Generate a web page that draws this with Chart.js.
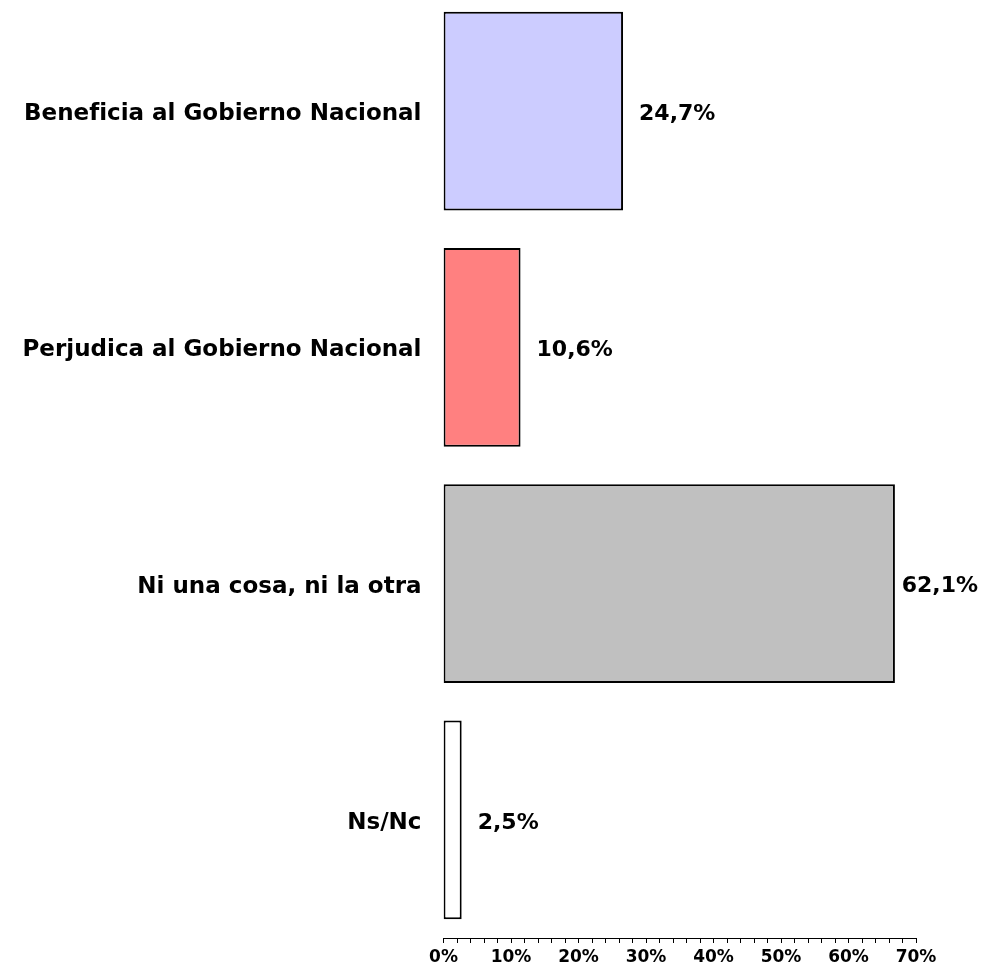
<!DOCTYPE html>
<html lang="es">
<head>
  <meta charset="UTF-8">
  <title>Beneficia o perjudica al Gobierno Nacional</title>
  <script src="https://cdn.jsdelivr.net/npm/chart.js"></script>
  <style>
    html, body {
      margin: 0;
      padding: 0;
      background: #fff;
      overflow: hidden;
    }

    #chartContainer {
      position: absolute;
      left: 0;
      top: -7px;
      width: 982px;
      height: 974px;
    }
  </style>
</head>
<body>

  <div id="chartContainer">
    <canvas id="opinionChart"></canvas>
  </div>

  <script>
    const categories = [
      "Beneficia al Gobierno Nacional",
      "Perjudica al Gobierno Nacional",
      "Ni una cosa, ni la otra",
      "Ns/Nc"
    ];
    const percentages = [24.7, 10.6, 62.1, 2.5];
    const barColors = ["#CCCCFF", "#FF8080", "#C0C0C0", "#FFFFFF"];
    const axisTicks = [0, 10, 20, 30, 40, 50, 60, 70];

    const FONT = "'DejaVu Sans', Verdana, sans-serif";

    // value labels to the right of each bar, e.g. "24,7%"
    const valueLabels = {
      id: 'valueLabels',
      afterDatasetsDraw(chart) {
        const ctx = chart.ctx;
        const meta = chart.getDatasetMeta(0);
        ctx.save();
        ctx.font = "bold 22px " + FONT;
        ctx.fillStyle = '#000';
        ctx.textBaseline = 'middle';
        ctx.textAlign = 'left';
        meta.data.forEach((bar, i) => {
          const text = percentages[i].toFixed(1).replace('.', ',') + '%';
          const w = ctx.measureText(text).width;
          let x = bar.x + 16;
          if (x + w > chart.width - 4) x = chart.width - 4 - w;
          ctx.fillText(text, x, bar.y + 3);
        });
        ctx.restore();
      }
    };

    const ctx1 = document.getElementById('opinionChart').getContext('2d');
    new Chart(ctx1, {
      type: 'bar',
      data: {
        labels: categories,
        datasets: [{
          data: percentages,
          backgroundColor: barColors,
          borderColor: '#000',
          borderWidth: 2,
          borderSkipped: false,
          categoryPercentage: 1,
          barPercentage: 0.842,
          xAxisID: 'x'
        }]
      },
      options: {
        indexAxis: 'y',
        responsive: true,
        maintainAspectRatio: false,
        animation: false,
        layout: {
          padding: { left: 0, right: 66, top: 0, bottom: 0 }
        },
        scales: {
          // bars are drawn on this (hidden) axis
          x: {
            display: false,
            min: 0,
            max: 65
          },
          // visible percentage axis
          x2: {
            display: true,
            position: 'bottom',
            min: 0,
            max: 70,
            border: { display: true, color: '#000', width: 1 },
            grid: {
              drawOnChartArea: false,
              drawTicks: true,
              tickLength: 5,
              color: '#000'
            },
            ticks: {
              stepSize: 2,
              autoSkip: false,
              maxRotation: 0,
              padding: 4,
              color: '#000',
              font: { family: FONT, size: 17, weight: 'bold' },
              callback: v => axisTicks.includes(v) ? v + '%' : ''
            },
            afterFit: scale => { scale.height = 29; }
          },
          y: {
            border: { display: false },
            grid: { display: false, drawTicks: false },
            ticks: {
              padding: 22,
              labelOffset: 3,
              color: '#000',
              font: { family: FONT, size: 23, weight: 'bold' }
            },
            afterFit: scale => {
              scale.width = 443.5;
              scale.paddingTop = 0;
              scale.paddingBottom = 0;
            }
          }
        },
        plugins: {
          legend: { display: false },
          tooltip: { enabled: false }
        }
      },
      plugins: [valueLabels]
    });
  </script>

</body>
</html>
